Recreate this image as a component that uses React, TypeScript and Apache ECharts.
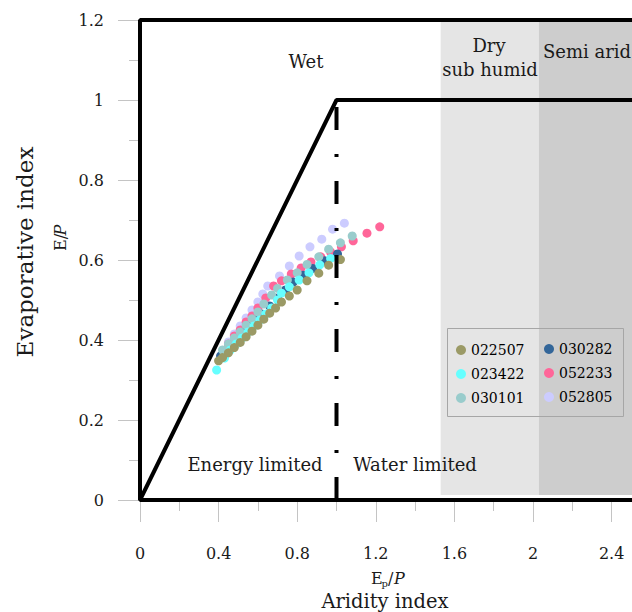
import React, { useEffect, useRef } from "react";
import * as echarts from "echarts";

const FONT = "DejaVu Serif";

// Station series (Ep/P, E/P)
const names = ["022507", "023422", "030101", "030282", "052233", "052805"];
const colors = ["#9b9a66", "#66ffff", "#99cccc", "#336699", "#ff6699", "#ccccff"];

const s022507 = [
  [0.40, 0.348], [0.42, 0.356], [0.45, 0.368], [0.48, 0.381], [0.51, 0.394], [0.54, 0.408],
  [0.57, 0.422], [0.60, 0.437], [0.63, 0.452], [0.66, 0.467], [0.69, 0.48], [0.72, 0.495],
  [0.76, 0.51], [0.80, 0.525], [0.85, 0.548], [0.91, 0.567], [0.96, 0.587], [1.02, 0.601],
];
const s023422 = [
  [0.39, 0.325], [0.43, 0.355], [0.46, 0.375], [0.49, 0.39], [0.52, 0.405], [0.55, 0.42],
  [0.58, 0.435], [0.61, 0.45], [0.64, 0.465], [0.67, 0.48], [0.70, 0.50], [0.72, 0.517],
  [0.76, 0.533], [0.81, 0.55], [0.86, 0.568], [0.915, 0.588], [0.97, 0.604],
];
const s030101 = [
  [0.42, 0.375], [0.45, 0.39], [0.48, 0.405], [0.51, 0.42], [0.54, 0.437], [0.57, 0.453],
  [0.60, 0.47], [0.63, 0.49], [0.67, 0.5125], [0.70, 0.529], [0.75, 0.55], [0.80, 0.568],
  [0.85, 0.589], [0.91, 0.608], [0.96, 0.627], [1.02, 0.643], [1.08, 0.66],
];
const s030282 = [
  [0.41, 0.36], [0.44, 0.375], [0.47, 0.39], [0.50, 0.405], [0.53, 0.42], [0.56, 0.435],
  [0.59, 0.45], [0.62, 0.465], [0.66, 0.485], [0.70, 0.505], [0.74, 0.525], [0.78, 0.545],
  [0.83, 0.562], [0.88, 0.579], [0.94, 0.598], [1.005, 0.615],
];
const s052233 = [
  [0.45, 0.39], [0.48, 0.41], [0.51, 0.425], [0.54, 0.445], [0.57, 0.46], [0.60, 0.48],
  [0.64, 0.505], [0.68, 0.535], [0.72, 0.548], [0.77, 0.565], [0.82, 0.58], [0.87, 0.595],
  [0.92, 0.608], [0.97, 0.62], [1.025, 0.633], [1.085, 0.648], [1.155, 0.667], [1.22, 0.683],
];
const s052805 = [
  [0.45, 0.395], [0.48, 0.415], [0.51, 0.435], [0.54, 0.455], [0.57, 0.475], [0.60, 0.495],
  [0.625, 0.515], [0.65, 0.535], [0.71, 0.56], [0.76, 0.585], [0.81, 0.61], [0.865, 0.633],
  [0.925, 0.652], [0.98, 0.677], [1.04, 0.692],
];
const seriesData = [s022507, s023422, s030101, s030282, s052233, s052805];

// Framework lines
const framePts = [[2.8, 1.2], [0, 1.2], [0, 0], [2.8, 0]];
const budykoPts = [[0, 0], [1, 1], [2.8, 1]];
const limitPts = [[1, 0], [1, 1]];

// Climate zones (Ep/P bounds)
const zoneBounds = [1.53, 2.03, 2.8];
const zoneColors = ["#e5e5e5", "#cdcdcd"];

const xTicks = { min: 0, max: 2.8, interval: 0.4 };
const yTicks = { min: 0, max: 1.2, interval: 0.2 };

function txt(text: string, x: number, y: number, size: number, extra: any = {}) {
  const { style: extraStyle, ...rest } = extra;
  return {
    type: "text",
    x,
    y,
    z: 100,
    ...rest,
    style: {
      text,
      fontFamily: FONT,
      fontSize: size,
      fill: "#1a1a1a",
      align: "center",
      verticalAlign: "middle",
      textAlign: "center",
      textVerticalAlign: "middle",
      ...(extraStyle || {}),
    },
  };
}

export default function App() {
  const ref = useRef<HTMLDivElement>(null);
  useEffect(() => {
    if (!ref.current) return;
    const chart = echarts.init(ref.current, undefined, { renderer: "svg" });
    const tickColor = "#c4c4c4";
    const scatterSeries = names.map((n, i) => ({
      type: "scatter",
      name: n,
      data: seriesData[i],
      symbol: "circle",
      symbolSize: 9,
      itemStyle: { color: colors[i], opacity: 1 },
      z: 10 - i,
    }));
    const lineBase = {
      type: "line",
      symbol: "none",
      clip: false,
      silent: true,
      z: 20,
    };
    const legendText = { fontFamily: FONT, fontSize: 14, color: "#000", lineHeight: 16 };
    const left = { align: "left", textAlign: "left" };
    const option: any = {
      animation: false,
      grid: { left: 140, top: 20, width: 550.2, height: 480 },
      xAxis: {
        type: "value",
        ...xTicks,
        axisLine: { show: false },
        axisTick: { show: true, length: 22, lineStyle: { color: tickColor } },
        minorTick: { show: true, splitNumber: 2, length: 11, lineStyle: { color: tickColor } },
        splitLine: { show: false },
        axisLabel: {
          margin: 45,
          fontFamily: FONT,
          fontSize: 16,
          color: "#1a1a1a",
          showMaxLabel: false,
        },
      },
      yAxis: {
        type: "value",
        ...yTicks,
        axisLine: { show: false },
        axisTick: { show: true, length: 22, lineStyle: { color: tickColor } },
        minorTick: { show: true, splitNumber: 2, length: 11, lineStyle: { color: tickColor } },
        splitLine: { show: false },
        axisLabel: { margin: 36, fontFamily: FONT, fontSize: 16, color: "#1a1a1a" },
      },
      legend: [
        {
          data: names.slice(0, 3),
          orient: "vertical",
          left: 456,
          top: 342,
          padding: 0,
          itemWidth: 10,
          itemHeight: 10,
          itemGap: 8,
          icon: "circle",
          textStyle: legendText,
        },
        {
          data: names.slice(3),
          orient: "vertical",
          left: 544,
          top: 341,
          padding: 0,
          itemWidth: 10,
          itemHeight: 10,
          itemGap: 8,
          icon: "circle",
          textStyle: legendText,
        },
      ],
      series: [
        {
          type: "line",
          data: [],
          silent: true,
          z: 1,
          markArea: {
            silent: true,
            data: [
              [
                { coord: [zoneBounds[0], 0.0125], itemStyle: { color: zoneColors[0] } },
                { coord: [zoneBounds[1], 1.2] },
              ],
              [
                { coord: [zoneBounds[1], 0.0125], itemStyle: { color: zoneColors[1] } },
                { coord: [zoneBounds[2], 1.2] },
              ],
            ],
          },
        },
        ...scatterSeries,
        { ...lineBase, data: framePts, lineStyle: { color: "#000", width: 4 } },
        { ...lineBase, data: budykoPts, lineStyle: { color: "#000", width: 4 } },
        {
          ...lineBase,
          data: limitPts,
          lineStyle: { color: "#000", width: 4, type: [23, 24, 3, 24], cap: "butt" },
        },
      ],
      graphic: [
        {
          type: "rect",
          z: 50,
          shape: { x: 447.5, y: 328.5, width: 176, height: 88 },
          style: { fill: "rgba(0,0,0,0)", stroke: "#a6a6a6", lineWidth: 1 },
        },
        txt("Wet", 306, 61, 18),
        txt("Dry", 489, 45, 18),
        txt("sub humid", 490, 69, 18),
        txt("Semi arid", 587, 51, 18),
        txt("Energy limited", 255, 464.5, 18),
        txt("Water limited", 415, 464.5, 18),
        txt("Evaporative index", 25, 252, 23, { rotation: Math.PI / 2 }),
        txt("E/", 60, 251, 16, { rotation: Math.PI / 2, style: left }),
        txt("P", 60, 235.5, 16, { rotation: Math.PI / 2, style: { ...left, fontStyle: "italic" } }),
        txt("E", 371, 578, 16, { style: left }),
        txt("p", 381.5, 583.5, 10, { style: left }),
        txt("/", 388, 578, 16, { style: left }),
        txt("P", 394, 578, 16, { style: { ...left, fontStyle: "italic" } }),
        txt("Aridity index", 385, 601, 19.5),
      ],
    };
    chart.setOption(option);
    return () => chart.dispose();
  }, []);
  return (
    <div
      style={{
        position: "fixed",
        left: 0,
        top: 0,
        width: 632,
        height: 612,
        overflow: "hidden",
        background: "#fff",
      }}
    >
      <div ref={ref} style={{ width: 720, height: 612 }} />
    </div>
  );
}
